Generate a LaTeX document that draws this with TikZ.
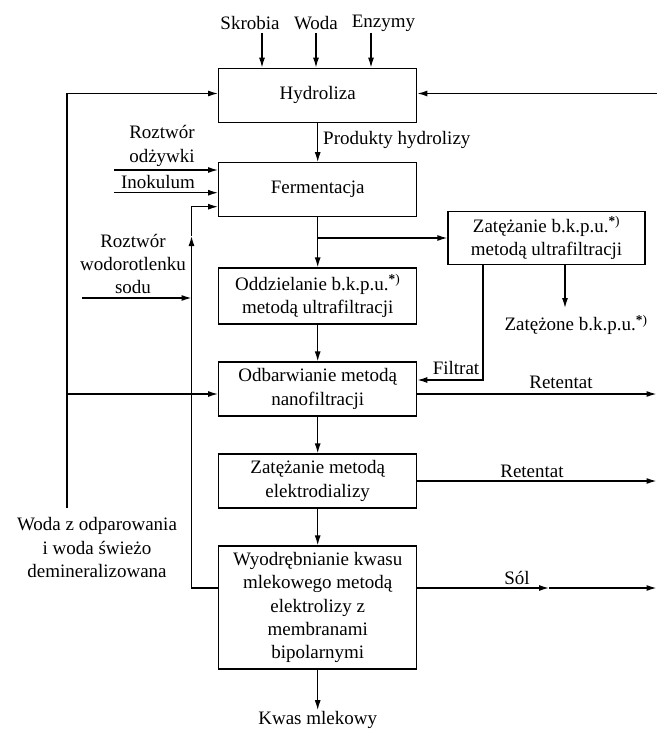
\documentclass[tikz,border=0pt]{standalone}
\usepackage{fontspec}
\setmainfont{Liberation Serif}
\usetikzlibrary{arrows.meta,calc}
\newcommand{\bkpu}{b.k.p.u.\textsuperscript{\textbf{*})}}
\begin{document}
\begin{tikzpicture}[x=1pt,y=-1pt,
  every node/.style={font=\fontsize{19}{23.3}\selectfont, inner sep=1pt},
  procbox/.style={draw, line width=1.3pt, minimum width=198pt, align=center, inner sep=2pt},
  lbl/.style={align=center},
  arr/.style={line width=1.3pt, -{Latex[length=10pt,width=6pt]}},
  ln/.style={line width=1.3pt}]
\useasboundingbox (0,0) rectangle (657,730);
% process boxes
\node[procbox, minimum height=54pt] (hyd) at (317.7,95.3) {Hydroliza};
\node[procbox, minimum height=53.4pt] (fer) at (317.7,189.5) {Fermentacja};
\node[procbox, minimum height=56pt] (odd) at (317.7,296) {Oddzielanie \bkpu\\metodą ultrafiltracji};
\node[procbox, minimum height=54pt] (odb) at (317.7,389) {Odbarwianie metodą\\nanofiltracji};
\node[procbox, minimum height=54pt] (zel) at (317.7,481) {Zatężanie metodą\\elektrodializy};
\node[procbox, minimum height=123pt] (wyo) at (317.7,607.5) {Wyodrębnianie kwasu\\mlekowego metodą\\elektrolizy z\\membranami\\bipolarnymi};
\node[procbox, minimum width=197pt, minimum height=53.3pt] (zat) at (546.5,238) {Zatężanie \bkpu\\metodą ultrafiltracji};
% labels
\node[lbl] (skr) at (250,23) {Skrobia};
\node[lbl] (woda) at (316,23) {Woda};
\node[lbl] (enz) at (383.5,23) {Enzymy};
\node[lbl, anchor=west] (prod) at (322,140) {Produkty hydrolizy};
\node[lbl] (odz) at (162,146) {Roztwór\\odżywki};
\node[lbl] (ino) at (158,182) {Inokulum};
\node[lbl] (naoh) at (133,264) {Roztwór\\wodorotlenku\\sodu};
\node[lbl] (wod) at (97,547.5) {Woda z odparowania\\i woda świeżo\\demineralizowana};
\node[lbl] (zone) at (576,325) {Zatężone \bkpu};
\node[lbl] (filt) at (456,368) {Filtrat};
\node[lbl] (ret1) at (561,382) {Retentat};
\node[lbl] (ret2) at (532,471) {Retentat};
\node[lbl] (sol) at (517,578) {Sól};
\node[lbl] (kwas) at (317.7,720) {Kwas mlekowy};
% coordinates
\coordinate (t1) at (262,33);
\coordinate (t2) at (316,33);
\coordinate (t3) at (371,33);
\coordinate (rin) at (656.5,93.5);
\coordinate (wl) at (67,508);
\coordinate (wlt) at (67,93.5);
\coordinate (wlb) at (67,394);
\coordinate (f1) at (114,170);
\coordinate (f2) at (114,192.7);
\coordinate (f3) at (191.5,206.7);
\coordinate (nup) at (191.5,236);
\coordinate (nb) at (191.5,588);
\coordinate (na) at (81.7,298);
\coordinate (na2) at (191.5,298);
\coordinate (zd) at (565,308);
\coordinate (fl) at (483,380);
\coordinate (r1) at (656.5,394);
\coordinate (r2) at (656.5,481);
\coordinate (s1) at (549,588);
\coordinate (s2) at (656.5,588);
% top inputs
\draw[arr] (t1) -- (t1 |- hyd.north);
\draw[arr] (t2) -- (t2 |- hyd.north);
\draw[arr] (t3) -- (t3 |- hyd.north);
% recycle lines
\draw[arr] (rin) -- (rin -| hyd.east);
\draw[ln] (wl) -- (wlt);
\draw[arr] (wlt) -- (wlt -| hyd.west);
\draw[arr] (wlb) -- (wlb -| odb.west);
% main column
\draw[arr] (hyd.south) -- (fer.north);
\draw[arr] (fer.south) -- (odd.north);
\draw[arr] (fer.south |- zat.west) -- (zat.west);
\draw[arr] (odd.south) -- (odb.north);
\draw[arr] (odb.south) -- (zel.north);
\draw[arr] (zel.south) -- (wyo.north);
\draw[arr] (wyo.south) -- (kwas.north);
% fermentation inputs
\draw[arr] (f1) -- (f1 -| fer.west);
\draw[arr] (f2) -- (f2 -| fer.west);
\draw[ln] (wyo.west |- nb) -- (nb) -- (na2);
\draw[arr] (na2) -- (nup);
\draw[arr] (nup) |- (f3 -| fer.west);
\draw[arr] (na) -- (na2);
% ultrafiltration concentrate
\draw[arr] (zat.south -| zd) -- (zd);
\draw[arr] (zat.south -| fl) |- (fl -| odb.east);
% outputs
\draw[arr] (r1 -| odb.east) -- (r1);
\draw[arr] (zel.east) -- (r2);
\draw[arr] (s1 -| wyo.east) -- (s1);
\draw[arr] (s1) -- (s2);
\end{tikzpicture}
\end{document}
